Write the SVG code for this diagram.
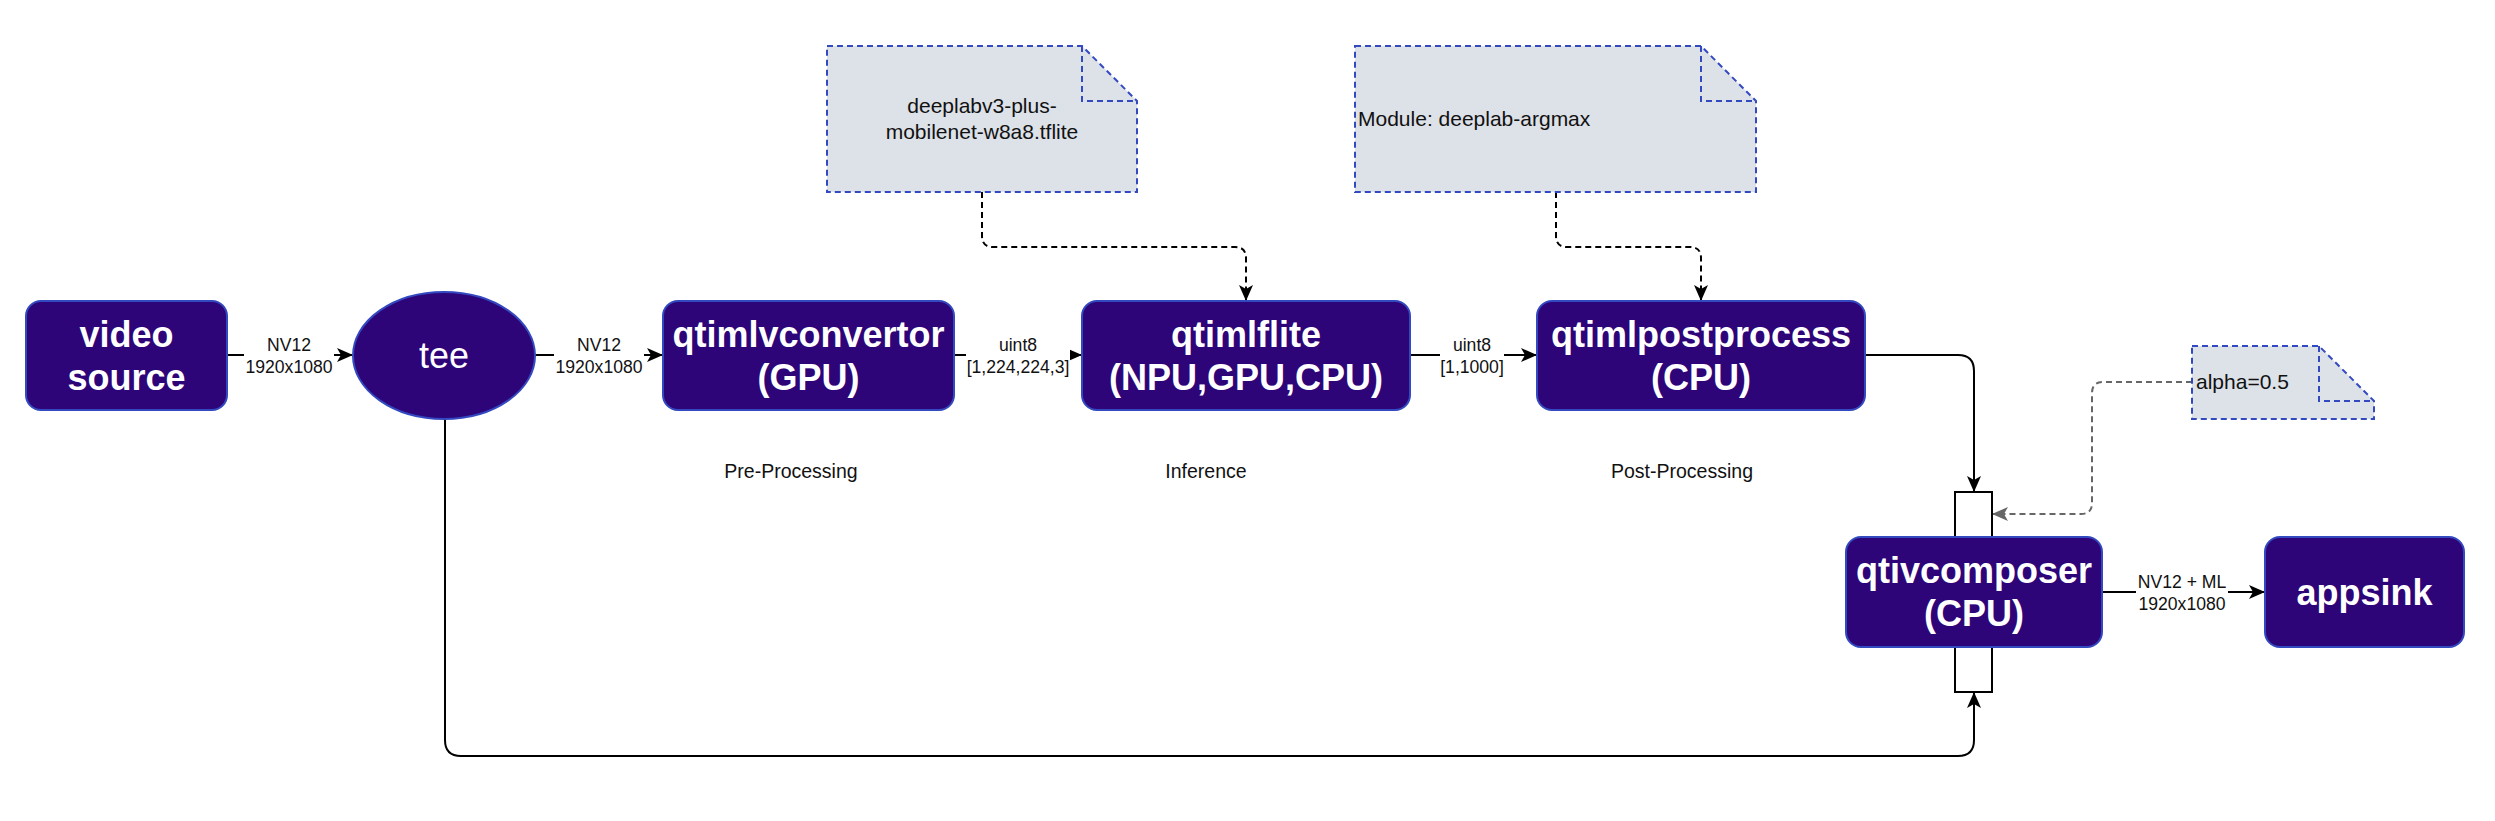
<svg xmlns="http://www.w3.org/2000/svg" width="2495" height="821" viewBox="0 0 2495 821">
<style>
.box{fill:#2E0579;stroke:#3349C0;stroke-width:2}
.bt{fill:#fff;font-family:"Liberation Sans",Arial,sans-serif;font-size:36px;font-weight:bold;text-anchor:middle}
.tt{fill:#fff;font-family:"Liberation Sans",Arial,sans-serif;font-size:36px;text-anchor:middle}
.lbl{fill:#111;font-family:"Liberation Sans",Arial,sans-serif;font-size:17.6px;text-anchor:middle}
.lblbg{fill:#fff}
.note{fill:#DDE1E8;stroke:#3349C0;stroke-width:2;stroke-dasharray:6 4}
.fold{fill:none;stroke:#3349C0;stroke-width:2;stroke-dasharray:6 4}
.nt{fill:#111;font-family:"Liberation Sans",Arial,sans-serif;font-size:21px}
.cap{fill:#111;font-family:"Liberation Sans",Arial,sans-serif;font-size:19.5px;text-anchor:middle}
.e{fill:none;stroke:#000;stroke-width:2}
.ed{fill:none;stroke:#000;stroke-width:2;stroke-dasharray:6 4}
.eg{fill:none;stroke:#666;stroke-width:2;stroke-dasharray:6 4}
.pad{fill:#fff;stroke:#000;stroke-width:2}
</style>
<defs>
<marker id="ab" markerUnits="userSpaceOnUse" markerWidth="16" markerHeight="14" refX="15" refY="7" orient="auto">
<path d="M0,0 L16,7 L0,14 L4,7 Z" fill="#000"/>
</marker>
<marker id="ag" markerUnits="userSpaceOnUse" markerWidth="16" markerHeight="14" refX="15" refY="7" orient="auto">
<path d="M0,0 L16,7 L0,14 L4,7 Z" fill="#666"/>
</marker>
</defs>

<g id="connectors">
<path class="e" d="M227,355 L352,355" marker-end="url(#ab)"/>
<path class="e" d="M535,355 L662,355" marker-end="url(#ab)"/>
<path class="e" d="M954,355 L1081,355" marker-end="url(#ab)"/>
<path class="e" d="M1410,355 L1536,355" marker-end="url(#ab)"/>
<path class="e" d="M1865,355 L1958,355 Q1974,355 1974,371 L1974,491" marker-end="url(#ab)"/>
<path class="e" d="M445,419 L445,740 Q445,756 461,756 L1958,756 Q1974,756 1974,740 L1974,693" marker-end="url(#ab)"/>
<path class="e" d="M2102,592 L2264,592" marker-end="url(#ab)"/>
<path class="ed" d="M982,192 L982,236 Q982,247 993,247 L1235,247 Q1246,247 1246,258 L1246,300" marker-end="url(#ab)"/>
<path class="ed" d="M1556,192 L1556,236 Q1556,247 1567,247 L1690,247 Q1701,247 1701,258 L1701,300" marker-end="url(#ab)"/>
<path class="eg" d="M2192,382 L2103,382 Q2092,382 2092,393 L2092,503 Q2092,514 2081,514 L1993,514" marker-end="url(#ag)"/>
<rect class="lblbg" x="244" y="334" width="90" height="44"/>
<text class="lbl" x="289" y="351">NV12</text>
<text class="lbl" x="289" y="373">1920x1080</text>
<rect class="lblbg" x="554" y="334" width="90" height="44"/>
<text class="lbl" x="599" y="351">NV12</text>
<text class="lbl" x="599" y="373">1920x1080</text>
<rect class="lblbg" x="966" y="334" width="104" height="44"/>
<text class="lbl" x="1018" y="351">uint8</text>
<text class="lbl" x="1018" y="373">[1,224,224,3]</text>
<rect class="lblbg" x="1440" y="334" width="64" height="44"/>
<text class="lbl" x="1472" y="351">uint8</text>
<text class="lbl" x="1472" y="373">[1,1000]</text>
<rect class="lblbg" x="2136" y="571" width="92" height="44"/>
<text class="lbl" x="2182" y="588">NV12 + ML</text>
<text class="lbl" x="2182" y="610">1920x1080</text>
</g>

<g id="video-source">
<rect class="box" x="26" y="301" width="201" height="109" rx="15"/>
<text class="bt" x="126.5" y="346.5">video</text>
<text class="bt" x="126.5" y="389.5">source</text>
</g>
<g id="tee">
<ellipse class="box" cx="444" cy="355.5" rx="91" ry="63.5"/>
<text class="tt" x="444" y="368">tee</text>
</g>
<g id="qtimlvconvertor">
<rect class="box" x="663" y="301" width="291" height="109" rx="15"/>
<text class="bt" x="808.5" y="346.5">qtimlvconvertor</text>
<text class="bt" x="808.5" y="389.5">(GPU)</text>
</g>
<g id="qtimlflite">
<rect class="box" x="1082" y="301" width="328" height="109" rx="15"/>
<text class="bt" x="1246" y="346.5">qtimlflite</text>
<text class="bt" x="1246" y="389.5">(NPU,GPU,CPU)</text>
</g>
<g id="qtimlpostprocess">
<rect class="box" x="1537" y="301" width="328" height="109" rx="15"/>
<text class="bt" x="1701" y="346.5">qtimlpostprocess</text>
<text class="bt" x="1701" y="389.5">(CPU)</text>
</g>
<g id="qtivcomposer">
<rect class="pad" x="1955" y="492" width="37" height="45"/>
<rect class="pad" x="1955" y="647" width="37" height="45"/>
<rect class="box" x="1846" y="537" width="256" height="110" rx="15"/>
<text class="bt" x="1974" y="583">qtivcomposer</text>
<text class="bt" x="1974" y="626">(CPU)</text>
</g>
<g id="appsink">
<rect class="box" x="2265" y="537" width="199" height="110" rx="15"/>
<text class="bt" x="2364.5" y="605">appsink</text>
</g>
<g id="note-model">
<path class="note" d="M827,46 L1082,46 L1137,101 L1137,192 L827,192 Z"/>
<path class="fold" d="M1082,46 L1082,101 L1137,101"/>
<text class="nt" x="982" y="113" text-anchor="middle">deeplabv3-plus-</text>
<text class="nt" x="982" y="139" text-anchor="middle">mobilenet-w8a8.tflite</text>
</g>
<g id="note-module">
<path class="note" d="M1355,46 L1701,46 L1756,101 L1756,192 L1355,192 Z"/>
<path class="fold" d="M1701,46 L1701,101 L1756,101"/>
<text class="nt" x="1358" y="126">Module: deeplab-argmax</text>
</g>
<g id="note-alpha">
<path class="note" d="M2192,346 L2319,346 L2374,401 L2374,419 L2192,419 Z"/>
<path class="fold" d="M2319,346 L2319,401 L2374,401"/>
<text class="nt" x="2196" y="389">alpha=0.5</text>
</g>
<g id="captions">
<text class="cap" x="791" y="478">Pre-Processing</text>
<text class="cap" x="1206" y="478">Inference</text>
<text class="cap" x="1682" y="478">Post-Processing</text>
</g>
</svg>
